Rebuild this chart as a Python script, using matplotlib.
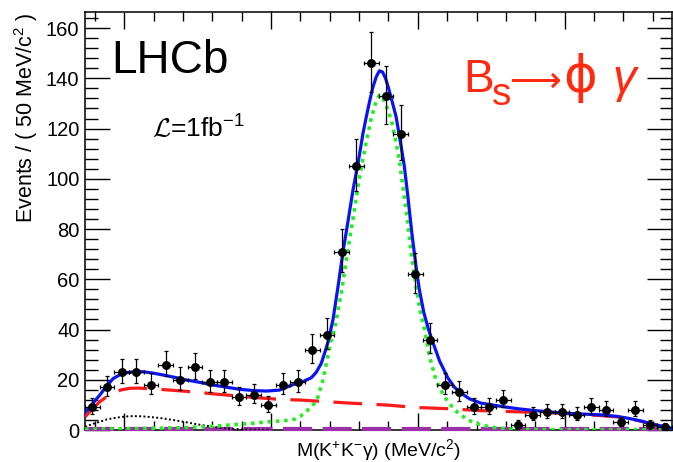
import numpy as np
import matplotlib
matplotlib.use("Agg")
import matplotlib.pyplot as plt
from matplotlib.ticker import MultipleLocator, NullFormatter

plt.rcParams["font.family"] = ["Liberation Sans", "DejaVu Sans"]
plt.rcParams["mathtext.fontset"] = "custom"
plt.rcParams["mathtext.rm"] = "Liberation Sans"
plt.rcParams["mathtext.it"] = "Liberation Sans:italic"
plt.rcParams["mathtext.cal"] = "cmsy10"

# binned data, 50 MeV bins
bin_centres = [4391, 4441, 4491, 4541, 4591, 4641, 4691, 4741, 4791, 4841,
               4891, 4941, 4991, 5041, 5091, 5141, 5191, 5241, 5291, 5341,
               5391, 5441, 5491, 5541, 5591, 5641, 5691, 5741, 5791, 5841,
               5891, 5941, 5991, 6041, 6091, 6141, 6191, 6241, 6291, 6341]
counts = [9, 17, 23, 23, 18, 26, 20, 25, 19, 19,
          13, 14, 10, 18, 19, 32, 38, 71, 105, 146,
          133, 118, 62, 36, 18, 15, 9, 9, 12, 2,
          6, 7, 7, 6, 9, 8, 3, 8, 2, 1]
bin_half = 25

# total fit
total_m = [4366, 4392, 4417, 4440, 4462, 4485, 4508, 4535, 4564, 4600,
           4632, 4670, 4712, 4760, 4802, 4850, 4893, 4940, 4984, 5029,
           5080, 5109, 5137, 5154, 5171, 5182, 5194, 5211, 5228, 5245,
           5262, 5279, 5296, 5313, 5325, 5336, 5347, 5358, 5369, 5380,
           5390, 5398, 5412, 5426, 5443, 5454, 5466, 5480, 5494, 5505,
           5520, 5535, 5551, 5574, 5602, 5625, 5647, 5676, 5715, 5789,
           5845, 5902, 5960, 6016, 6070, 6129, 6180, 6220, 6260, 6288,
           6325, 6366]
total_v = [7, 10.5, 14, 17.5, 20.5, 22, 22.8, 23.2, 23.2, 22.6,
           21.9, 21, 19.9, 18.9, 17.9, 17, 16.2, 15.7, 15.5, 15.9,
           18.3, 19.3, 20.8, 23, 26.5, 30.5, 35, 44, 57, 71,
           83, 95.5, 106, 118, 125, 131, 136.5, 140.5, 143, 142.5,
           140, 137, 131, 124.7, 113, 105, 93, 78, 65, 56,
           47, 40.5, 35, 27.5, 20.8, 17, 14.7, 12.4, 10.7, 9.3,
           8.4, 7.7, 7.1, 6.6, 6.3, 6, 5.4, 4.6, 3.6, 2.7,
           1.7, 0.6]

# signal
signal_m = [4366, 4500, 4600, 4689, 4780, 4859, 4940, 4995, 5050, 5080,
            5100, 5126, 5148, 5160, 5177, 5188, 5205, 5216, 5240, 5262,
            5279, 5296, 5313, 5325, 5341, 5358, 5369, 5380, 5398, 5415,
            5437, 5451, 5466, 5477, 5494, 5510, 5523, 5540, 5562, 5590,
            5625, 5670, 5715, 5760, 5800, 5900, 6366]
signal_v = [0.3, 0.5, 0.7, 0.9, 1.3, 2, 2.7, 3.3, 3.8, 4.3,
            5.5, 8, 10.6, 13.3, 20, 26.5, 35.8, 40, 55, 72,
            84, 97, 108, 115, 124, 131, 133.3, 132.5, 127.5, 121,
            107.5, 95, 82, 70.3, 57, 46, 39.8, 29.2, 19.9, 13.3,
            8, 4, 2, 1, 0.5, 0.2, 0.1]

# combinatorial background
comb_m = [4366, 4392, 4417, 4440, 4462, 4490, 4519, 4548, 4576, 4630,
          4689, 4750, 4802, 4860, 4916, 4970, 5029, 5103, 5200, 5284,
          5400, 5488, 5600, 5715, 5800, 5902, 6000, 6129, 6180, 6220,
          6260, 6288, 6325, 6366]
comb_v = [5.2, 8.5, 11.3, 13.3, 14.8, 16, 16.6, 16.7, 16.5, 16.1,
          15.6, 15, 14.4, 13.8, 13.2, 12.7, 12.2, 11.9, 11.2, 10.6,
          9.9, 9.0, 8.5, 7.7, 7.4, 7.0, 6.6, 5.7, 5.2, 4.5,
          3.5, 2.6, 1.6, 0.5]

# partially reconstructed background
partial_m = [4366, 4392, 4417, 4440, 4462, 4490, 4519, 4548, 4576, 4620,
             4666, 4710, 4746, 4790, 4825, 4860, 4893, 4950, 5000]
partial_v = [1.3, 2.4, 3.3, 4.2, 4.7, 5.2, 5.5, 5.5, 5.3, 4.8,
             4, 3.1, 2.3, 1.5, 0.9, 0.5, 0.3, 0.1, 0]

# peaking background (flat near zero)
peaking_m = [4366, 6366]
peaking_v = [0.35, 0.35]

counts_arr = np.array(counts, dtype=float)
err_hi = 0.5 + np.sqrt(counts_arr + 0.25)
err_lo = -0.5 + np.sqrt(counts_arr + 0.25)

W, H = 673, 462
fig = plt.figure(figsize=(W / 100, H / 100), dpi=100)
ax = fig.add_axes([85 / W, 32 / H, 587 / W, 418 / H])

ax.plot(peaking_m, peaking_v, color="#9B30A8", lw=3.0, dashes=(7, 2.5),
        zorder=3, clip_on=False)
ax.plot(partial_m, partial_v, color="black", lw=1.4, linestyle=(0, (1, 1.2)), zorder=3)
ax.plot(signal_m, signal_v, color="#22EE22", lw=2.6, linestyle=(0, (1, 1.3)), zorder=3)
ax.plot(comb_m, comb_v, color="#FF1A1A", lw=2.3, dashes=(9, 4.5), zorder=3)
ax.plot(total_m, total_v, color="#0A14F0", lw=2.3, zorder=4)

ax.errorbar(bin_centres, counts, yerr=[err_lo, err_hi], xerr=bin_half,
            fmt="o", color="black", ms=5.4, elinewidth=0.9, capsize=1.6,
            capthick=0.9, zorder=5)

ax.set_xlim(4366, 6366)
ax.set_ylim(0, 166.4)

ax.xaxis.set_major_locator(MultipleLocator(500))
ax.xaxis.set_minor_locator(MultipleLocator(100))
ax.xaxis.set_major_formatter(NullFormatter())
ax.yaxis.set_major_locator(MultipleLocator(20))
ax.yaxis.set_minor_locator(MultipleLocator(4))
ax.tick_params(which="both", direction="in", top=True, right=True, width=1.0)
ax.tick_params(which="major", length=12, labelsize=14.5, pad=4)
ax.tick_params(which="minor", length=6.5)
ax.tick_params(axis="y", which="major", length=18)
ax.tick_params(axis="y", which="minor", length=9)
for s in ax.spines.values():
    s.set_linewidth(1.1)

ax.set_ylabel(r"Events / ( 50 MeV/c$^{2}$ )", fontsize=15.5, loc="top")
ax.yaxis.set_label_coords(-0.076, 1.0)
ax.set_xlabel(r"M(K$^{+}$K$^{-}$γ) (MeV/c$^{2}$)", fontsize=14)
ax.xaxis.set_label_coords(0.5, -0.018)
ax.xaxis.label.set_va("top")

ax.text(0.045, 0.935, "LHCb", transform=ax.transAxes, fontsize=33,
        ha="left", va="top")
ax.text(0.114, 0.70, r"$\mathcal{L}$=1fb$^{-1}$", transform=ax.transAxes,
        fontsize=19, ha="left", va="baseline")


def px(x, y):
    return x / W, (H - y) / H


red = "#FF2A10"
fig.text(*px(463, 92), "B", fontsize=33, color=red, va="baseline")
fig.text(*px(492, 105), "s", fontsize=28, color=red, va="baseline")
fig.text(*px(510, 92), "⟶", fontsize=26, color=red, va="baseline",
         family="DejaVu Sans")
fig.text(*px(563, 92), "ϕ", fontsize=37, color=red, va="baseline",
         family="DejaVu Sans")
fig.text(*px(612, 92), "γ", fontsize=34, color=red, va="baseline",
         family="Liberation Sans", style="italic")

fig.savefig("out.png", dpi=100)
